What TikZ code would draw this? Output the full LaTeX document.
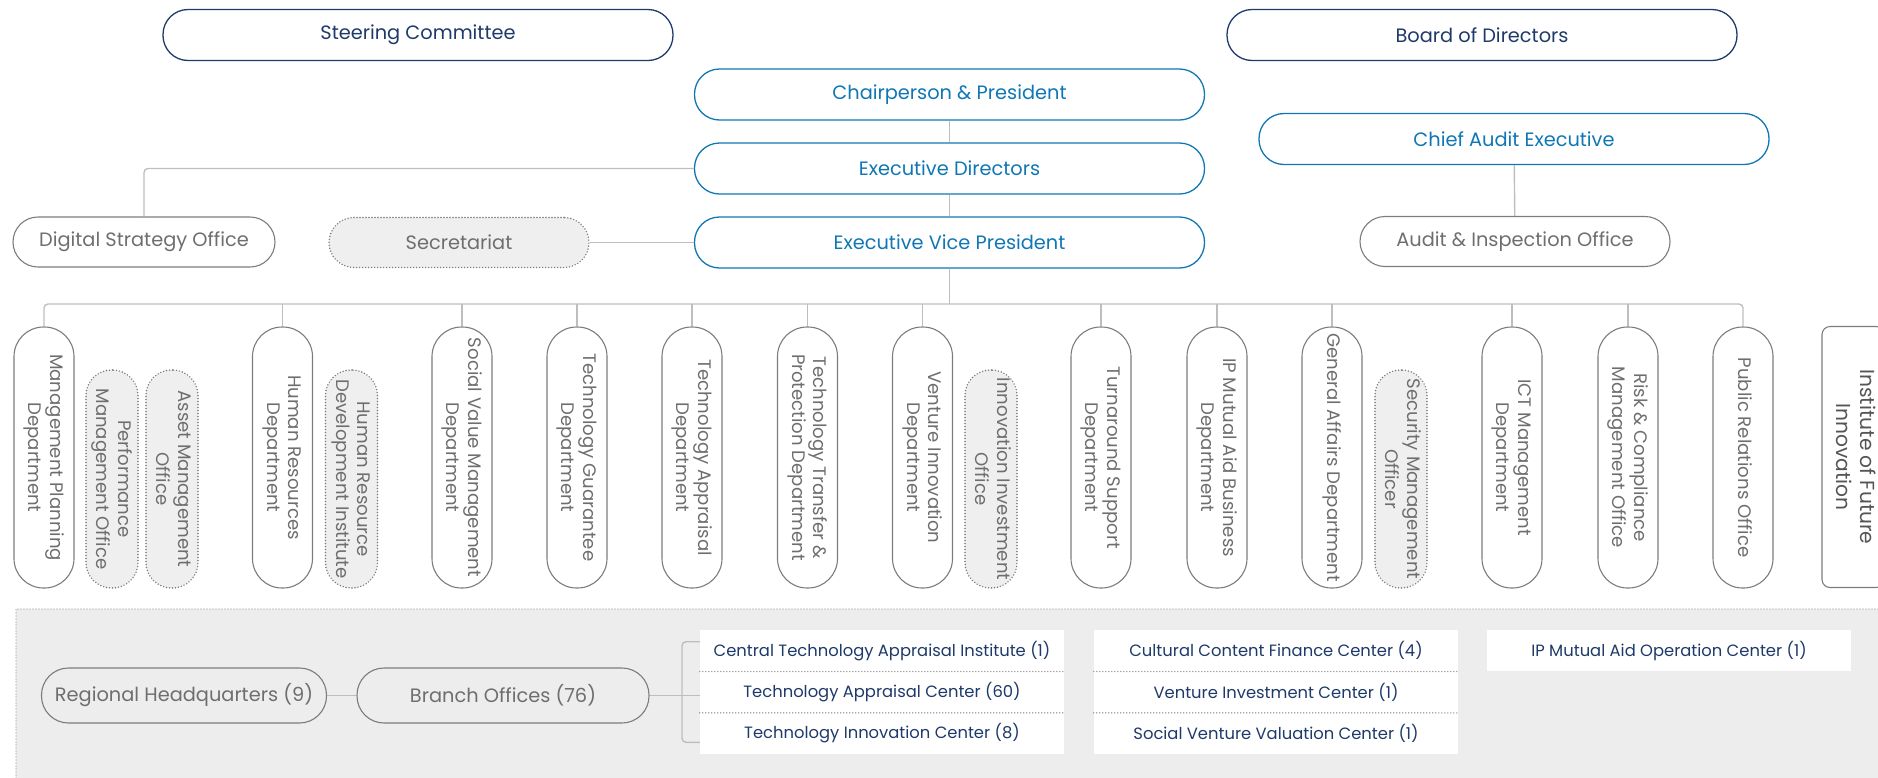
\documentclass[tikz,border=0pt]{standalone}
\usepackage{fontspec}
\setmainfont{Poppins}[Scale=0.88]
\usepackage{graphicx}
\usepackage{tikz}
\usetikzlibrary{calc}
\definecolor{navy}{HTML}{1E3A6A}
\definecolor{ocean}{HTML}{0F77B4}
\definecolor{edge}{HTML}{7C7C7C}
\definecolor{ink}{HTML}{6E6E6E}
\definecolor{deep}{HTML}{555555}
\definecolor{wire}{HTML}{BEBEBE}
\definecolor{shade}{HTML}{EFEFEF}
\definecolor{area}{HTML}{EDEDED}
\definecolor{dots}{HTML}{8C8C8C}
\newcommand\vtext[1]{\rotatebox{-90}{\begin{tabular}{@{}c@{}}#1\end{tabular}}}
\tikzset{
  board/.style={draw=navy, line width=1.3pt, rounded corners=25pt, minimum width=510pt,
    minimum height=51pt, inner sep=0pt, text=navy, font=\fontsize{22}{26}\selectfont},
  exec/.style={board, draw=ocean, text=ocean},
  office/.style={draw=edge, line width=1.1pt, rounded corners=25pt, minimum height=50pt,
    inner sep=0pt, text=ink, font=\fontsize{22}{26}\selectfont},
  dotline/.style={line width=1.6pt, line cap=round, dash pattern=on 0pt off 3pt},
  aide/.style={office, dotline, fill=shade},
  dept/.style={draw=edge, line width=1.1pt, rounded corners=29.5pt, minimum width=60pt,
    minimum height=261pt, inner sep=0pt, text=ink, font=\fontsize{20.6}{21.5}\selectfont},
  subunit/.style={dept, dotline, fill=shade, rounded corners=25.5pt,
    minimum width=52pt, minimum height=218pt},
  hub/.style={office, minimum height=55pt, rounded corners=27pt},
  cell/.style={fill=white, minimum width=364pt, minimum height=41.33pt, inner sep=0pt,
    text=navy, font=\fontsize{18.6}{22}\selectfont},
  conn/.style={draw=wire, line width=1.4pt},
  sep/.style={draw=dots, dotline, line width=1.4pt},
  areaedge/.style={draw=dots, dotline, line width=1.4pt}
}
\begin{document}
\begin{tikzpicture}[x=1pt, y=-1pt]
  \useasboundingbox (0,0) rectangle (1878,777);
  \clip (0,0) rectangle (1878,777);

  % regional network
  \fill[area] (16,609) rectangle (1890,790);
  \draw[areaedge] (1890,609) -- (16,609) -- (16,790);

  \node[board] (steer) at (418,35) {Steering Committee};
  \node[board] (bod) at (1482,35) {Board of Directors};
  \node[exec] (chair) at (949.5,94.5) {Chairperson \& President};
  \node[exec] (ed) at (949.5,168.5) {Executive Directors};
  \node[exec] (evp) at (949.5,242.5) {Executive Vice President};
  \node[exec] (cae) at (1514,139) {Chief Audit Executive};
  \node[office, minimum width=310pt] (aio) at (1515,241.5) {Audit \& Inspection Office};
  \node[office, minimum width=262pt] (dso) at (144,242) {Digital Strategy Office};
  \node[aide, minimum width=260pt] (secr) at (459,242.5) {Secretariat};

  \draw[conn] (chair) -- (ed);
  \draw[conn] (ed) -- (evp);
  \draw[conn] (cae) -- (aio);
  \draw[conn] (secr) -- (evp);
  \draw[conn, rounded corners=4pt] (ed.west) -| (dso.north);

  % departments
  \node[dept] (mpd) at (44,457.5) {\vtext{Management Planning\\Department}};
  \node[subunit] (pmo) at (112,479) {\vtext{Performance\\Management Office}};
  \node[subunit] (amo) at (172,479) {\vtext{Asset Management\\Office}};
  \node[dept] (hrd) at (282.5,457.5) {\vtext{Human Resources\\Department}};
  \node[subunit] (hrdi) at (351.5,479) {\vtext{Human Resource\\Development Institute}};
  \node[dept] (svm) at (462,457.5) {\vtext{Social Value Management\\Department}};
  \node[dept] (tg) at (577,457.5) {\vtext{Technology Guarantee\\Department}};
  \node[dept] (ta) at (692,457.5) {\vtext{Technology Appraisal\\Department}};
  \node[dept] (ttp) at (807.5,457.5) {\vtext{Technology Transfer \&\\Protection Department}};
  \node[dept] (vi) at (922.5,457.5) {\vtext{Venture Innovation\\Department}};
  \node[subunit] (iio) at (991,479) {\vtext{Innovation Investment\\Office}};
  \node[dept] (ts) at (1101,457.5) {\vtext{Turnaround Support\\Department}};
  \node[dept] (ip) at (1217,457.5) {\vtext{IP Mutual Aid Business\\Department}};
  \node[dept] (ga) at (1332,457.5) {\vtext{General Affairs Department}};
  \node[subunit] (smo) at (1401,479) {\vtext{Security Management\\Officer}};
  \node[dept] (ict) at (1512,457.5) {\vtext{ICT Management\\Department}};
  \node[dept] (rc) at (1628,457.5) {\vtext{Risk \& Compliance\\Management Office}};
  \node[dept] (pr) at (1743,457.5) {\vtext{Public Relations Office}};
  \node[dept, rounded corners=8pt, minimum width=62pt, text=deep,
    font=\fontsize{23}{24}\selectfont] (ifi) at (1853,457) {\vtext{Institute of Future\\Innovation}};

  \coordinate (bus) at (0,304);
  \draw[conn] (evp) -- (evp |- bus);
  \draw[conn, rounded corners=4pt] (mpd.north) -- (mpd.north |- bus) -- (pr.north |- bus) -- (pr.north);
  \foreach \d in {hrd,svm,tg,ta,ttp,vi,ts,ip,ga,ict,rc}
    \draw[conn] (\d.north |- bus) -- (\d.north);

  % branches and centers
  \node[hub, minimum width=285pt] (rhq) at (184,695.5) {Regional Headquarters (9)};
  \node[hub, minimum width=292pt] (bo) at (503,695.5) {Branch Offices (76)};
  \node[cell] (ctai) at (882,650.7) {Central Technology Appraisal Institute (1)};
  \node[cell] (tac) at (882,692) {Technology Appraisal Center (60)};
  \node[cell] (tic) at (882,733.3) {Technology Innovation Center (8)};
  \node[cell] (ccfc) at (1276,650.7) {Cultural Content Finance Center (4)};
  \node[cell] (vic) at (1276,692) {Venture Investment Center (1)};
  \node[cell] (svvc) at (1276,733.3) {Social Venture Valuation Center (1)};
  \node[cell] (ipc) at (1669,650.7) {IP Mutual Aid Operation Center (1)};
  \draw[sep] (ctai.south west) -- (ctai.south east);
  \draw[sep] (tac.south west) -- (tac.south east);
  \draw[sep] (ccfc.south west) -- (ccfc.south east);
  \draw[sep] (vic.south west) -- (vic.south east);

  \coordinate (fork) at (682,695.5);
  \draw[conn] (rhq) -- (bo);
  \draw[conn] (bo) -- (bo -| tac.west);
  \draw[conn, rounded corners=4pt] ([yshift=9pt]ctai.west) -| (fork) |- ([yshift=-9pt]tic.west);
\end{tikzpicture}
\end{document}
